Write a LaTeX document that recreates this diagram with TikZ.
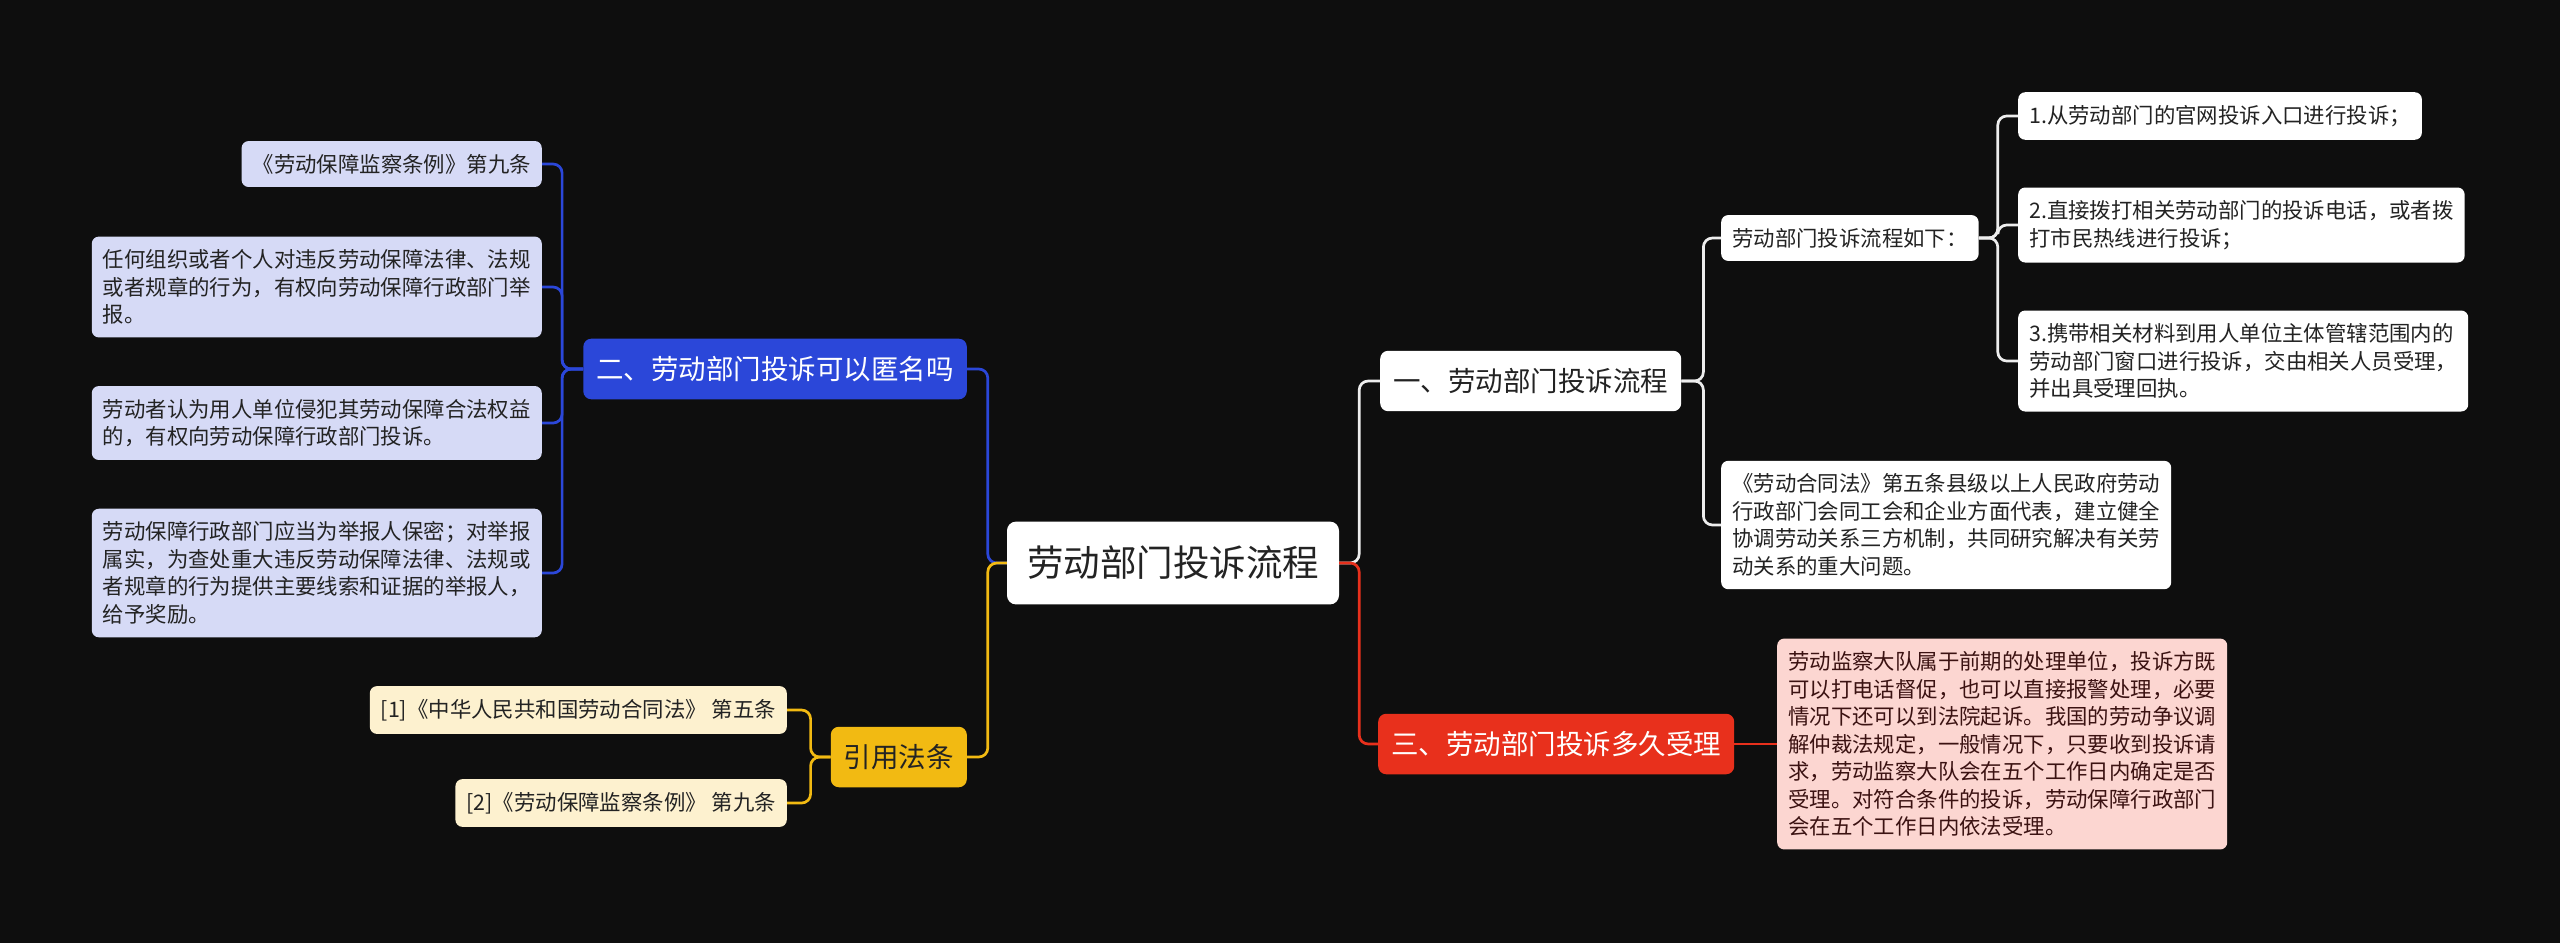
\documentclass[tikz,border=0pt]{standalone}
\usepackage{fontspec}
\setmainfont{Noto Sans CJK SC}
\usepackage{xcolor}
\usepackage{tikz}

\definecolor{bgblack}{HTML}{0E0E0E}
\definecolor{darktext}{HTML}{232323}
\definecolor{linkwhite}{HTML}{EDEDED}
\definecolor{topblue}{HTML}{2B47D9}
\definecolor{paleblue}{HTML}{D6DAF6}
\definecolor{topyellow}{HTML}{F2BA12}
\definecolor{paleyellow}{HTML}{FDF1CF}
\definecolor{topred}{HTML}{E8301C}
\definecolor{palered}{HTML}{FCD6D1}
\definecolor{redtext}{HTML}{3B1212}

\begin{document}
\begin{tikzpicture}[x=1pt,y=-1pt]
                \tikzstyle{root node}=[rectangle,rounded corners=9pt,fill=white,text=darktext,inner xsep=20pt,inner ysep=24.5pt,font=\fontsize{36.5}{44}\selectfont]
                \tikzstyle{main node}=[rectangle,rounded corners=8pt,inner xsep=13pt,inner ysep=17.5pt,font=\fontsize{27.5}{33}\selectfont]
                \tikzstyle{leaf node}=[rectangle,rounded corners=7pt,inner xsep=11pt,inner ysep=13pt,align=left,text=darktext,font=\fontsize{21.4}{27.5}\selectfont]
                \tikzstyle{link}=[line width=2.7pt,rounded corners=9pt]
                \fill[bgblack] (0,0) rectangle (2560,943);
                \useasboundingbox (0,0) rectangle (2560,943);
                % centre and main branches
                \node[root node] (0) at (1173,563) {劳动部门投诉流程};
                \node[main node,fill=white,text=darktext,anchor=west] (1) at (1380,381) {一、劳动部门投诉流程};
                \node[main node,fill=topblue,text=white,anchor=east] (2) at (967,369) {二、劳动部门投诉可以匿名吗};
                \node[main node,fill=topred,text=white,anchor=west] (3) at (1378,744) {三、劳动部门投诉多久受理};
                \node[main node,fill=topyellow,text=darktext,anchor=east] (4) at (967,757) {引用法条};
                % branch one
                \node[leaf node,fill=white,anchor=west] (1-1) at (1721,238) {劳动部门投诉流程如下：};
                \node[leaf node,fill=white,anchor=west] (1-2) at (1721,525) {《劳动合同法》第五条县级以上人民政府劳动\\行政部门会同工会和企业方面代表，建立健全\\协调劳动关系三方机制，共同研究解决有关劳\\动关系的重大问题。};
                \node[leaf node,fill=white,anchor=west] (1-1-1) at (2018,116) {1.从劳动部门的官网投诉入口进行投诉；};
                \node[leaf node,fill=white,anchor=west] (1-1-2) at (2018,225) {2.直接拨打相关劳动部门的投诉电话，或者拨\\打市民热线进行投诉；};
                \node[leaf node,fill=white,anchor=west] (1-1-3) at (2018,361) {3.携带相关材料到用人单位主体管辖范围内的\\劳动部门窗口进行投诉，交由相关人员受理，\\并出具受理回执。};
                % branch two
                \node[leaf node,fill=paleblue,anchor=east] (2-1) at (542,164) {《劳动保障监察条例》第九条};
                \node[leaf node,fill=paleblue,anchor=east] (2-2) at (542,287) {任何组织或者个人对违反劳动保障法律、法规\\或者规章的行为，有权向劳动保障行政部门举\\报。};
                \node[leaf node,fill=paleblue,anchor=east] (2-3) at (542,423) {劳动者认为用人单位侵犯其劳动保障合法权益\\的，有权向劳动保障行政部门投诉。};
                \node[leaf node,fill=paleblue,anchor=east] (2-4) at (542,573) {劳动保障行政部门应当为举报人保密；对举报\\属实，为查处重大违反劳动保障法律、法规或\\者规章的行为提供主要线索和证据的举报人，\\给予奖励。};
                % branch three
                \node[leaf node,fill=palered,text=redtext,anchor=west] (3-1) at (1777,744) {劳动监察大队属于前期的处理单位，投诉方既\\可以打电话督促，也可以直接报警处理，必要\\情况下还可以到法院起诉。我国的劳动争议调\\解仲裁法规定，一般情况下，只要收到投诉请\\求，劳动监察大队会在五个工作日内确定是否\\受理。对符合条件的投诉，劳动保障行政部门\\会在五个工作日内依法受理。};
                % references
                \node[leaf node,fill=paleyellow,anchor=east] (4-1) at (787,710) {[1]《中华人民共和国劳动合同法》 第五条};
                \node[leaf node,fill=paleyellow,anchor=east] (4-2) at (787,803) {[2]《劳动保障监察条例》 第九条};
                % connectors
                \draw[link,topblue] (0.west) -- ++(-19,0) |- (2.east);
                \draw[link,topyellow] (0.west) -- ++(-19,0) |- (4.east);
                \draw[link,linkwhite] (0.east) -- ++(20,0) |- (1.west);
                \draw[link,topred] (0.east) -- ++(20,0) |- (3.west);
                \draw[link,linkwhite] (1.east) -- ++(22,0) |- (1-1.west);
                \draw[link,linkwhite] (1.east) -- ++(22,0) |- (1-2.west);
                \draw[link,linkwhite] (1-1.east) -- ++(19,0) |- (1-1-1.west);
                \draw[link,linkwhite] (1-1.east) -- ++(19,0) |- (1-1-2.west);
                \draw[link,linkwhite] (1-1.east) -- ++(19,0) |- (1-1-3.west);
                \draw[link,topblue] (2.west) -- ++(-21,0) |- (2-1.east);
                \draw[link,topblue] (2.west) -- ++(-21,0) |- (2-2.east);
                \draw[link,topblue] (2.west) -- ++(-21,0) |- (2-3.east);
                \draw[link,topblue] (2.west) -- ++(-21,0) |- (2-4.east);
                \draw[link,topred] (3.east) -- (3-1.west);
                \draw[link,topyellow] (4.west) -- ++(-20,0) |- (4-1.east);
                \draw[link,topyellow] (4.west) -- ++(-20,0) |- (4-2.east);
            \end{tikzpicture}
\end{document}
